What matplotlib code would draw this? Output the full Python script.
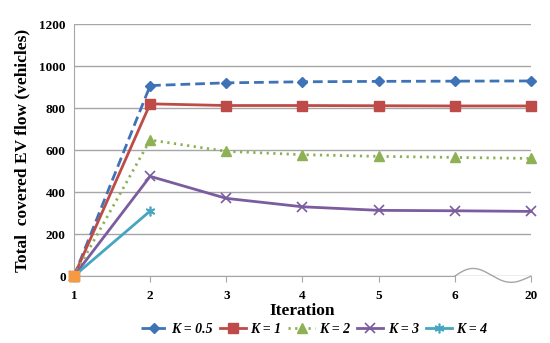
import numpy as np
import matplotlib
matplotlib.use("Agg")
import matplotlib.pyplot as plt

iterations = ["1", "2", "3", "4", "5", "6", "20"]
k05 = [0, 907, 920, 925, 927, 928, 929]
k1 = [0, 820, 812, 812, 811, 810, 810]
k2 = [0, 648, 594, 578, 570, 565, 560]
k3 = [0, 475, 370, 330, 313, 311, 308]
k4 = [0, 310]
start = [0]
labels = ["K = 0.5", "K = 1", "K = 2", "K = 3", "K = 4"]

plt.rcParams['font.family'] = ['Liberation Serif', 'DejaVu Serif']

fig = plt.figure(figsize=(5.5, 3.43), dpi=100)
ax = fig.add_axes([0.1345, 0.195, 0.831, 0.735])

x = np.arange(len(iterations))
ax.plot(x, k05, color='#3F73B8', ls=(0, (3.5, 1.8)), lw=2, marker='D', ms=5, label=labels[0], clip_on=False)
ax.plot(x, k1, color='#BE4B48', ls='-', lw=2, marker='s', ms=7, label=labels[1], clip_on=False)
ax.plot(x, k2, color='#8DB154', ls=(0, (0.8, 1.6)), lw=2, marker='^', ms=6.5, label=labels[2], clip_on=False)
ax.plot(x, k3, color='#7A5C9F', ls='-', lw=2, marker='x', ms=7, mew=1.2, label=labels[3], clip_on=False)
ax.plot(x[:len(k4)], k4, color='#46A5C0', ls='-', lw=2, marker=(6, 2, 0), ms=7, mew=1.2, label=labels[4], clip_on=False)
ax.plot(x[:len(start)], start, color='#F59A42', ls='none', marker='s', ms=7, zorder=6, clip_on=False)

ax.set_xlim(0, 6)
ax.set_ylim(0, 1200)
ax.set_yticks(range(0, 1201, 200))
ax.set_xticks(x)
ax.set_xticklabels(iterations)
ax.grid(axis='y', color='#a6a6a6', lw=1)
ax.set_axisbelow(True)
for s in ['top', 'right']:
    ax.spines[s].set_visible(False)
ax.spines['left'].set_color('#a6a6a6')
ax.spines['bottom'].set_bounds(0, 5)
ax.spines['bottom'].set_color('#a6a6a6')
ax.tick_params(axis='x', direction='out', length=4, color='#a6a6a6', pad=6)
ax.tick_params(axis='y', length=0, pad=6)
for lab in ax.get_xticklabels() + ax.get_yticklabels():
    lab.set_fontweight('bold')
    lab.set_fontsize(9.5)

# wavy break between 6 and 20
t = np.linspace(0, 1, 200)
wave_x = 5 + t
wave_y = 40 * np.sin(2 * np.pi * t) * (1 - 0.35 * t)
ax.plot(wave_x, wave_y, color='#a6a6a6', lw=1, clip_on=False, zorder=1)

ax.set_xlabel("Iteration", fontsize=12.5, fontweight='bold', labelpad=0.5)
ax.set_ylabel("Total  covered EV flow (vehicles)", fontsize=12.5, fontweight='bold', labelpad=6)

leg = fig.legend(loc='lower center', bbox_to_anchor=(0.571, -0.015), ncol=5, frameon=False,
                 prop={'style': 'italic', 'weight': 'bold', 'size': 10},
                 handlelength=1.9, columnspacing=0.5, handletextpad=0.3)

fig.savefig("out.png", dpi=100)
